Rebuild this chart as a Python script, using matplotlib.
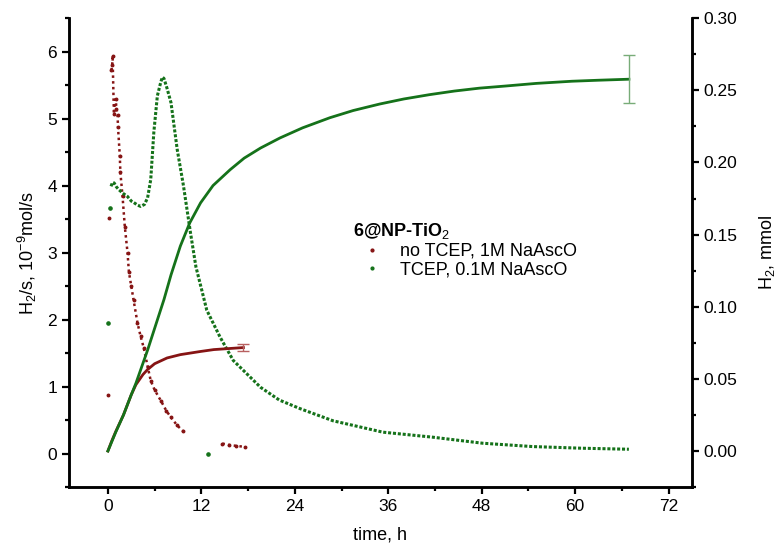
import numpy as np
import matplotlib
matplotlib.use("Agg")
import matplotlib.pyplot as plt
from matplotlib.lines import Line2D
from matplotlib.ticker import MultipleLocator, FormatStrFormatter

plt.rcParams['font.family'] = ['Liberation Sans', 'DejaVu Sans']
plt.rcParams['mathtext.fontset'] = 'custom'
plt.rcParams['mathtext.rm'] = 'Liberation Sans'
plt.rcParams['mathtext.bf'] = 'Liberation Sans:bold'

# rate, no TCEP, 1M NaAscO (left axis, 1e-9 mol/s); nan = gap between dots
red_rate_t = [0.0, np.nan, 0.17, np.nan, 0.45, 0.55, 0.6, 0.77, 1.0, 1.1, 1.24, 1.3, 1.53, 1.6,
              1.88, 2.17, 2.52, 2.7, 3.0, 3.3, 3.8, 4.2, 4.6, 5.1, 5.5, 6.0, 6.8, 7.5, 8.1,
              8.9, 9.7, np.nan, 14.7, 15.5, 16.5, 17.6]
red_rate = [0.88, np.nan, 3.52, np.nan, 5.72, 5.80, 5.94, 5.07, 5.29, 5.15, 5.05, 4.87, 4.44, 4.2,
            3.84, 3.39, 3.0, 2.71, 2.5, 2.29, 1.95, 1.75, 1.58, 1.30, 1.09, 0.95, 0.79, 0.64, 0.54,
            0.42, 0.33, np.nan, 0.15, 0.13, 0.115, 0.10]

# rate, TCEP, 0.1M NaAscO
green_rate_t = [0.0, np.nan, 0.26, np.nan, 0.4, 0.6, 0.8, 1.1, 1.4, 2.0, 2.5, 3.0, 3.3, 3.8, 4.2,
                4.7, 5.1, 5.5, 5.9, 6.35, 6.8, 7.0, 7.2, 7.6, 8.1, 8.9, 9.7, 10.6, 11.3, 12.7,
                14.4, 16.1, 19.6, 22.0, 24.7, 28.9, 35.3, 41.7, 48.1, 54.5, 60.9, 66.9]
green_rate = [1.95, np.nan, 3.67, np.nan, 3.99, 4.05, 4.04, 3.98, 3.94, 3.88, 3.84, 3.77, 3.75, 3.71,
              3.69, 3.72, 3.82, 4.09, 4.8, 5.34, 5.55, 5.62, 5.60, 5.45, 5.24, 4.54, 4.0, 3.30,
              2.79, 2.14, 1.74, 1.39, 0.99, 0.80, 0.67, 0.49, 0.32, 0.245, 0.155, 0.105, 0.08, 0.065]
green_outlier_t = [0.0, 0.26, 12.9]
green_outlier = [1.95, 3.67, 0.0]

# cumulative H2, mmol (right axis)
red_cum_t = [0, 0.5, 1, 2, 3, 3.6, 4.5, 5.1, 6, 7.6, 9.3, 11.9, 13.6, 15.5, 17.4]
red_cum = [0, 0.007, 0.0134, 0.025, 0.039, 0.046, 0.053, 0.0565, 0.0605, 0.0645, 0.0668,
           0.069, 0.0703, 0.071, 0.0717]
green_cum_t = [0, 1, 2, 3, 3.6, 5.1, 6, 7.2, 8.1, 9.3, 10.5, 11.9, 13.5, 15.7, 17.5, 19.6,
               22.1, 25, 28.5, 31.5, 34.9, 38, 41.3, 44.5, 47.7, 51.1, 55, 59.6, 63, 66.9]
green_cum = [0, 0.013, 0.025, 0.039, 0.047, 0.070, 0.085, 0.105, 0.122, 0.142, 0.158, 0.172,
             0.184, 0.195, 0.203, 0.210, 0.217, 0.224, 0.231, 0.236, 0.2405, 0.244, 0.247,
             0.2495, 0.2515, 0.253, 0.2548, 0.2563, 0.257, 0.2577]
red_err = 0.0024
green_err = 0.0168

RED = '#861414'
GREEN = '#15721a'

fig = plt.figure(figsize=(7.81, 5.51), dpi=100)
ax = fig.add_axes([0.0883, 0.116, 0.886 - 0.0883, 0.967 - 0.116])
ax2 = ax.twinx()

ax.plot(red_rate_t, red_rate, color=RED, ls=(0, (1, 1.3)), lw=1.8)
ax.plot(red_rate_t, red_rate, 'o', color=RED, ms=1.8)
ax.plot(green_rate_t, green_rate, color=GREEN, ls=(0, (1, 0.6)), lw=2.2)
ax.plot(green_outlier_t, green_outlier, 'o', color=GREEN, ms=2.3)

ax2.plot(red_cum_t, red_cum, color=RED, lw=2)
ax2.plot(green_cum_t, green_cum, color=GREEN, lw=2)
ax2.errorbar(red_cum_t[-1], red_cum[-1], yerr=red_err, color='#b86060', capsize=4, lw=1)
ax2.errorbar(green_cum_t[-1], green_cum[-1], yerr=green_err, color='#78ac78', capsize=4, lw=1)

ax.set_xlim(-5, 75)
ax.set_ylim(-0.5, 6.5)
ax2.set_ylim(-0.025, 0.30)

ax.xaxis.set_major_locator(MultipleLocator(12))
ax.xaxis.set_minor_locator(MultipleLocator(6))
ax.yaxis.set_major_locator(MultipleLocator(1))
ax.yaxis.set_minor_locator(MultipleLocator(0.5))
ax2.yaxis.set_major_locator(MultipleLocator(0.05))
ax2.yaxis.set_minor_locator(MultipleLocator(0.025))
ax2.yaxis.set_major_formatter(FormatStrFormatter('%.2f'))

for a in (ax, ax2):
    a.spines['top'].set_visible(False)
    for s in a.spines.values():
        s.set_linewidth(1.8)
    a.tick_params(which='major', length=5, width=1.6, labelsize=12.5, direction='out')
    a.tick_params(which='minor', length=3, width=1.6, direction='out')

ax.set_xlabel('time, h', fontsize=13, labelpad=9)
ax.set_ylabel('H$_2$/s, 10$^{-9}$mol/s', fontsize=13, labelpad=6)
ax2.set_ylabel('H$_2$, mmol', fontsize=13, rotation=90, labelpad=14)

handles = [Line2D([], [], marker='o', ls='', color=RED, ms=2),
           Line2D([], [], marker='o', ls='', color=GREEN, ms=2)]
labels = ['no TCEP, 1M NaAscO', 'TCEP, 0.1M NaAscO']
leg = ax2.legend(handles, labels, title='6@NP-TiO$_2$', loc='upper left',
                 bbox_to_anchor=(0.441, 0.615), bbox_transform=fig.transFigure,
                 frameon=False, fontsize=13, handlelength=2.0, handletextpad=0.6,
                 labelspacing=0.1, borderpad=0)
leg.get_title().set_fontweight('bold')
leg.get_title().set_fontsize(13)
leg._legend_box.align = 'left'

fig.savefig('out.png', dpi=100)
